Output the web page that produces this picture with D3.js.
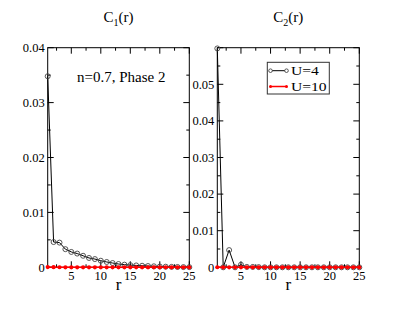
<!DOCTYPE html>
<html>
<head>
<meta charset="utf-8">
<script src="https://cdn.jsdelivr.net/npm/d3@7"></script>
<style>
  body { margin: 0; background: #fff; }
  text { font-family: "Liberation Serif", "DejaVu Serif", serif; fill: #000; }
</style>
</head>
<body>
<script>
// distances r
var rVals = [1, 2, 3, 4, 5, 6, 7, 8, 9, 10, 11, 12, 13, 14, 15, 16, 17, 18, 19, 20, 21, 22, 23, 24, 25];

// C1(r) series
var c1U4 = [0.0348, 0.0046, 0.0045, 0.0033, 0.0028, 0.0025, 0.0021, 0.0017, 0.0015, 0.0012,
            0.00097, 0.00078, 0.0006, 0.00048, 0.0004, 0.00034, 0.00028, 0.00023, 0.00018, 0.00014,
            0.00011, 0.00008, 0.00006, 0.00004, 0.00003];
var c1U10 = [0.00004, 0.00002, 0.00001, 0, 0, 0, 0, 0, 0, 0, 0, 0, 0, 0, 0, 0, 0, 0, 0, 0, 0, 0, 0, 0, 0];

// C2(r) series
var c2U4 = [0.0598, 0.0, 0.0047, 0.0, 0.0007, 0.0001, 0.0001, 0.00005, 0, 0, 0, 0, 0, 0, 0, 0, 0, 0, 0, 0, 0, 0, 0, 0, 0];
var c2U10 = [0.00002, 0, 0, 0, 0, 0, 0, 0, 0, 0, 0, 0, 0, 0, 0, 0, 0, 0, 0, 0, 0, 0, 0, 0, 0];

var xTicks = [5, 10, 15, 20, 25];
var y1Ticks = [0, 0.01, 0.02, 0.03, 0.04];
var y2Ticks = [0, 0.01, 0.02, 0.03, 0.04, 0.05];
var legendLabels = ["U=4", "U=10"];

var svg = d3.select("body").append("svg")
    .attr("width", 407)
    .attr("height", 315);

// draw one panel
function panel(left, right, yMax, yTicks, s4, s10, sub) {
  var top = 47.7, bottom = 267.3;
  var x = d3.scaleLinear().domain([1, 25]).range([left, right]);
  var y = d3.scaleLinear().domain([0, yMax]).range([bottom, top]);

  var g = svg.append("g");

  // frame
  g.append("rect")
    .attr("x", left).attr("y", top)
    .attr("width", right - left).attr("height", bottom - top)
    .attr("fill", "none").attr("stroke", "#000").attr("stroke-width", 1);

  // x ticks (inward, bottom + top)
  d3.range(2.5, 25.01, 2.5).forEach(function(v) {
    var len = v % 5 === 0 ? 6 : 3;
    g.append("line").attr("x1", x(v)).attr("x2", x(v)).attr("y1", bottom).attr("y2", bottom - len)
      .attr("stroke", "#000");
    g.append("line").attr("x1", x(v)).attr("x2", x(v)).attr("y1", top).attr("y2", top + len)
      .attr("stroke", "#000");
  });
  xTicks.forEach(function(v) {
    g.append("text").attr("x", x(v)).attr("y", 280)
      .attr("text-anchor", "middle").attr("font-size", 12.5).text(v);
  });

  // y ticks (inward, left + right)
  for (var v = 0; v <= yMax + 1e-9; v += 0.005) {
    var major = Math.abs(v / 0.01 - Math.round(v / 0.01)) < 1e-6;
    var len = major ? 6 : 3;
    g.append("line").attr("x1", left).attr("x2", left + len).attr("y1", y(v)).attr("y2", y(v))
      .attr("stroke", "#000");
    g.append("line").attr("x1", right).attr("x2", right - len).attr("y1", y(v)).attr("y2", y(v))
      .attr("stroke", "#000");
  }
  yTicks.forEach(function(v) {
    g.append("text").attr("x", left - 3).attr("y", y(v)).attr("dy", "0.35em")
      .attr("text-anchor", "end").attr("font-size", 12.5).text(v);
  });

  // series U=4
  var line = d3.line().x(function(d, i) { return x(rVals[i]); }).y(function(d) { return y(d); });
  g.append("path").datum(s4).attr("d", line)
    .attr("fill", "none").attr("stroke", "#000").attr("stroke-width", 1);
  g.selectAll(".c4").data(s4).enter().append("circle")
    .attr("cx", function(d, i) { return x(rVals[i]); })
    .attr("cy", function(d) { return y(d); })
    .attr("r", 2.5).attr("fill", "none").attr("stroke", "#444").attr("stroke-width", 0.9);

  // series U=10
  g.append("path").datum(s10).attr("d", line)
    .attr("fill", "none").attr("stroke", "#ff0000").attr("stroke-width", 1.5);
  g.selectAll(".c10").data(s10).enter().append("circle")
    .attr("cx", function(d, i) { return x(rVals[i]); })
    .attr("cy", function(d) { return y(d); })
    .attr("r", 2.1).attr("fill", "#ff0000");

  // title C_n(r)
  var cx = (left + right) / 2;
  var t = g.append("text").attr("x", cx).attr("y", 22).attr("text-anchor", "middle").attr("font-size", 15);
  t.append("tspan").text("C");
  t.append("tspan").attr("font-size", 10).attr("dy", 4).text(sub);
  t.append("tspan").attr("dy", -4).text("(r)");

  // x label
  g.append("text").attr("x", cx).attr("y", 290).attr("text-anchor", "middle")
    .attr("font-size", 17).text("r");

  return {x: x, y: y, g: g};
}

var p1 = panel(47.7, 189.3, 0.04, y1Ticks, c1U4, c1U10, "1");
var p2 = panel(217.3, 359.3, 0.06, y2Ticks, c2U4, c2U10, "2");

// annotation
p1.g.append("text").attr("x", 77).attr("y", 82).attr("font-size", 15)
  .text("n=0.7, Phase 2");

// legend
var lg = svg.append("g");
lg.append("rect").attr("x", 267.3).attr("y", 62.3).attr("width", 62).attr("height", 31.7)
  .attr("fill", "#fff").attr("stroke", "#333").attr("stroke-width", 1);
var legY = [70.7, 86.5];
legendLabels.forEach(function(lab, i) {
  var col = i === 0 ? "#000" : "#ff0000";
  lg.append("line").attr("x1", 270.5).attr("x2", 286.5).attr("y1", legY[i]).attr("y2", legY[i])
    .attr("stroke", col).attr("stroke-width", i === 0 ? 1 : 1.5);
  [270.5, 286.5].forEach(function(px) {
    if (i === 0) {
      lg.append("circle").attr("cx", px).attr("cy", legY[i]).attr("r", 1.8)
        .attr("fill", "#fff").attr("stroke", "#444").attr("stroke-width", 0.9);
    } else {
      lg.append("circle").attr("cx", px).attr("cy", legY[i]).attr("r", 1.5).attr("fill", "#ff0000");
    }
  });
  lg.append("text")
    .attr("transform", "translate(291," + (legY[i] + 4.5) + ") scale(1.25,1)")
    .attr("font-size", 12.5).text(lab);
});
</script>
</body>
</html>
